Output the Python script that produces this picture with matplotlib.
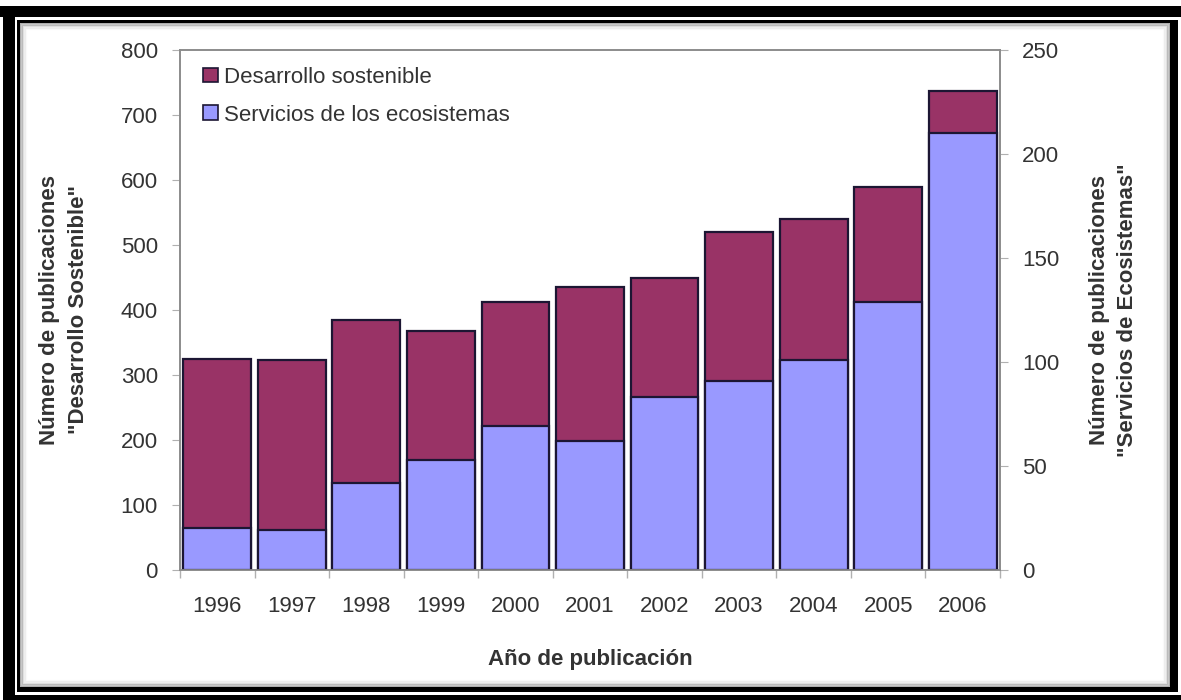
import numpy as np
import matplotlib.pyplot as plt
from matplotlib.patches import Rectangle

plt.rcParams['font.family'] = ['Liberation Sans', 'DejaVu Sans']

# publications per year
anios = ['1996', '1997', '1998', '1999', '2000', '2001',
         '2002', '2003', '2004', '2005', '2006']
desarrollo = [325, 323, 385, 367, 413, 436, 450, 520, 540, 590, 737]
servicios = [20, 19, 42, 53, 69, 62, 83, 91, 101, 129, 210]

col_des = '#993366'
col_ser = '#9999ff'
col_edge = '#1c1633'
col_txt = '#333333'
col_axis = '#8c8c8c'
fs = 16

fig = plt.figure(figsize=(11.81, 7.0), dpi=100)
W, H = 1181, 700


def frame_rect(x0, y0, x1, y1, **kw):
    # rectangle given in pixel coords (origin top-left)
    fig.patches.append(Rectangle((x0 / W, 1 - y1 / H), (x1 - x0) / W, (y1 - y0) / H,
                                 transform=fig.transFigure, **kw))


# outer black border (top, left, bottom)
frame_rect(0, 6, 1181, 17, facecolor='black', lw=0)
frame_rect(3, 6, 15, 700, facecolor='black', lw=0)
frame_rect(3, 695, 1181, 700, facecolor='black', lw=0)
# inner border: thin top/left, heavy right/bottom
frame_rect(17, 20, 1178, 23, facecolor='black', lw=0)
frame_rect(17, 20, 20, 692, facecolor='black', lw=0)
frame_rect(1170, 20, 1178, 692, facecolor='black', lw=0)
frame_rect(17, 687, 1178, 692, facecolor='black', lw=0)
# soft shadow inside the inner border
for i, a in enumerate([0.30, 0.18, 0.10, 0.05, 0.02]):
    d = i * 1.6
    frame_rect(20 + d, 23 + d, 1170 - d, 687 - d, facecolor='none',
               edgecolor='black', lw=1.6, alpha=a)

ax = fig.add_axes([180 / W, 1 - 570 / H, 820 / W, 520 / H])
ax2 = ax.twinx()

x = np.arange(len(anios))
ax.bar(x, desarrollo, width=0.91, color=col_des, edgecolor=col_edge,
       linewidth=1.6, zorder=2)
ax2.bar(x, servicios, width=0.91, color=col_ser, edgecolor=col_edge,
        linewidth=1.6, zorder=2)

ax.set_xlim(-0.5, len(anios) - 0.5)
ax.set_ylim(0, 800)
ax2.set_ylim(0, 250)
ax.set_yticks(np.arange(0, 801, 100))
ax2.set_yticks(np.arange(0, 251, 50))

ax.set_xticks(x)
ax.set_xticklabels(anios)
ax.set_xticks(np.arange(-0.5, len(anios)), minor=True)
ax.tick_params(axis='x', which='major', length=0, pad=19, labelsize=fs,
               labelcolor=col_txt)
ax.tick_params(axis='x', which='minor', length=6, color='#b0b0b0', width=1)
ax.tick_params(axis='y', length=6, color='#b0b0b0', pad=10, labelsize=fs,
               labelcolor=col_txt)
ax2.tick_params(axis='y', length=6, color='#b0b0b0', pad=10, labelsize=fs,
                labelcolor=col_txt)

for a in (ax, ax2):
    for s in a.spines.values():
        s.set_color(col_axis)
        s.set_linewidth(1.2)
ax2.patch.set_visible(False)

ax.set_ylabel('Número de publicaciones\n"Desarrollo Sostenible"', fontsize=fs,
              fontweight='bold', color=col_txt, labelpad=23, linespacing=1.45)
ax2.set_ylabel('Número de publicaciones\n"Servicios de Ecosistemas"', fontsize=fs,
               fontweight='bold', color=col_txt, labelpad=21, linespacing=1.45,
               rotation=90)
ax.set_xlabel('Año de publicación', fontsize=fs, fontweight='bold',
              color=col_txt, labelpad=23)

handles = [Rectangle((0, 0), 1, 1, facecolor=col_des, edgecolor=col_edge, lw=1.2),
           Rectangle((0, 0), 1, 1, facecolor=col_ser, edgecolor=col_edge, lw=1.2)]
ax2.legend(handles, ['Desarrollo sostenible', 'Servicios de los ecosistemas'],
           loc='upper left', bbox_to_anchor=(0.004, 1.006), frameon=False,
           fontsize=fs, handlelength=0.65, handleheight=0.65, handletextpad=0.3,
           labelspacing=0.75, labelcolor=col_txt)

fig.savefig('out.png', dpi=100)
